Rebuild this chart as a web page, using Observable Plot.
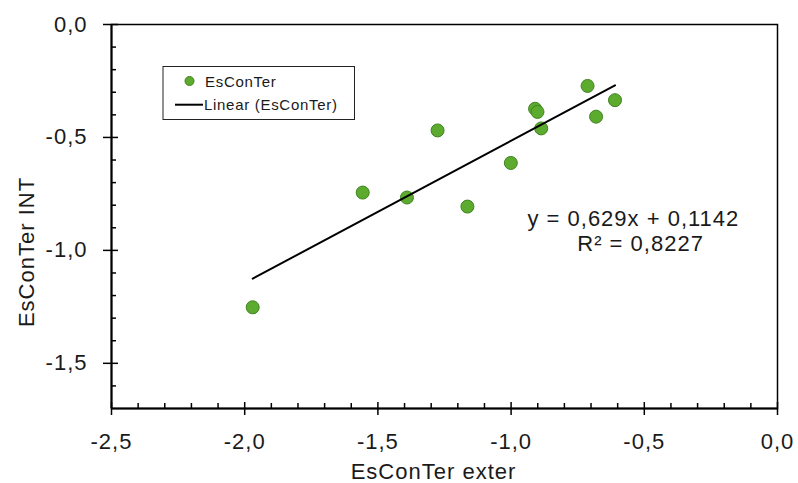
<!DOCTYPE html>
<html>
<head>
<meta charset="utf-8">
<script src="https://cdn.jsdelivr.net/npm/d3@7"></script>
<script src="https://cdn.jsdelivr.net/npm/@observablehq/plot@0.6"></script>
<style>
  html, body { margin: 0; padding: 0; background: #fff; }
  #chart { position: relative; width: 798px; height: 483px; }
</style>
</head>
<body>
<div id="chart"></div>
<script>
// ---- data ----
const xExter = [-1.970, -1.557, -1.391, -1.276, -1.164, -1.001, -0.910, -0.901, -0.887, -0.713, -0.681, -0.610];
const yInt   = [-1.252, -0.744, -0.766, -0.469, -0.806, -0.613, -0.373, -0.387, -0.460, -0.272, -0.408, -0.335];
const seriesName = "EsConTer";
const trendName = "Linear (EsConTer)";
const slope = 0.629;
const intercept = 0.1142;
const eqLine1 = "y = 0,629x + 0,1142";
const eqLine2 = "R² = 0,8227";
const xTicks = [-2.5, -2.0, -1.5, -1.0, -0.5, 0.0];
const yTicks = [0.0, -0.5, -1.0, -1.5];
const xTitle = "EsConTer exter";
const yTitle = "EsConTer INT";

const points = xExter.map((x, i) => ({x, y: yInt[i]}));
const xExtent = d3.extent(xExter);
const fmt = d => (Math.abs(d) < 1e-9 ? 0 : d).toFixed(1).replace(".", ",");

const W = 798, H = 483, mL = 111, mR = 21, mT = 24, mB = 75;
const innerW = W - mL - mR, innerH = H - mT - mB;
const xMinor = d3.range(-24, 0).map(i => i / 10).filter(v => Math.abs(v * 2 - Math.round(v * 2)) > 1e-6);
const yMinor = d3.range(-16, 0).map(i => i / 10).filter(v => Math.abs(v * 2 - Math.round(v * 2)) > 1e-6);

const ink = "#1a1a1a";

const chart = Plot.plot({
  width: W, height: H,
  marginLeft: mL, marginRight: mR, marginTop: mT, marginBottom: mB,
  style: {fontFamily: "'Liberation Sans', Arial, sans-serif", fontSize: "22px", letterSpacing: "1px", color: ink, background: "#fff", overflow: "visible"},
  x: {domain: [-2.5, 0], ticks: xTicks, tickFormat: fmt},
  y: {domain: [-1.7, 0], ticks: yTicks, tickFormat: fmt},
  marks: [
    Plot.frame({stroke: "#000", strokeWidth: 1.5}),
    Plot.axisX(xTicks, {tickSize: 0, tickPadding: 25, tickFormat: fmt, label: null, fill: ink}),
    Plot.axisY(yTicks, {tickSize: 0, tickPadding: 24, tickFormat: fmt, label: null, fill: ink}),
    Plot.tickX(xTicks, {x: d => d, insetTop: innerH - 6, insetBottom: -7, stroke: "#000", strokeWidth: 1.5}),
    Plot.tickX(xMinor, {x: d => d, insetTop: innerH - 5, stroke: "#000", strokeWidth: 1.5}),
    Plot.tickY(yTicks, {y: d => d, insetLeft: -8, insetRight: innerW - 7, stroke: "#000", strokeWidth: 1.5}),
    Plot.tickY(yMinor, {y: d => d, insetRight: innerW - 5, stroke: "#000", strokeWidth: 1.5}),
    Plot.ruleY([-1.7], {stroke: "#000", strokeWidth: 2}),
    Plot.ruleX([-2.5], {stroke: "#000", strokeWidth: 2}),
    Plot.dot(points, {x: "x", y: "y", r: 6.5, fill: "#5cab2e", stroke: "#3f8420", strokeWidth: 1}),
    Plot.line(xExtent, {x: d => d, y: d => slope * d + intercept, stroke: "#000", strokeWidth: 2}),
    Plot.text([eqLine1], {x: -0.541, y: -0.859, text: d => d, textAnchor: "middle", lineAnchor: "middle", fill: ink, style: {letterSpacing: "1.5px"}}),
    Plot.text([eqLine2], {x: -0.514, y: -0.971, text: d => d, textAnchor: "middle", lineAnchor: "middle", fill: ink, style: {letterSpacing: "0.3px"}}),
    Plot.text([xTitle], {frameAnchor: "bottom", text: d => d, dx: -11, dy: 70, lineAnchor: "bottom", textAnchor: "middle", fill: ink}),
    Plot.text([yTitle], {frameAnchor: "left", text: d => d, rotate: -90, dx: -78, dy: 35.5, lineAnchor: "bottom", textAnchor: "middle", fill: ink})
  ]
});

document.getElementById("chart").appendChild(chart);

// legend inside the plot area
const svg = d3.select(chart);
const lg = svg.append("g").attr("font-size", 15).attr("letter-spacing", "0.7px")
  .attr("fill", ink).attr("text-anchor", "start");
lg.append("rect").attr("x", 163).attr("y", 66.5).attr("width", 191.5).attr("height", 53)
  .attr("fill", "#fff").attr("stroke", "#222").attr("stroke-width", 1);
lg.append("circle").attr("cx", 189.5).attr("cy", 81).attr("r", 4.5)
  .attr("fill", "#5cab2e").attr("stroke", "#3f8420").attr("stroke-width", 1);
lg.append("text").attr("x", 205).attr("y", 87).text(seriesName);
lg.append("line").attr("x1", 175).attr("x2", 203).attr("y1", 104.7).attr("y2", 104.7)
  .attr("stroke", "#000").attr("stroke-width", 2);
lg.append("text").attr("x", 204).attr("y", 110).text(trendName);
</script>
</body>
</html>
